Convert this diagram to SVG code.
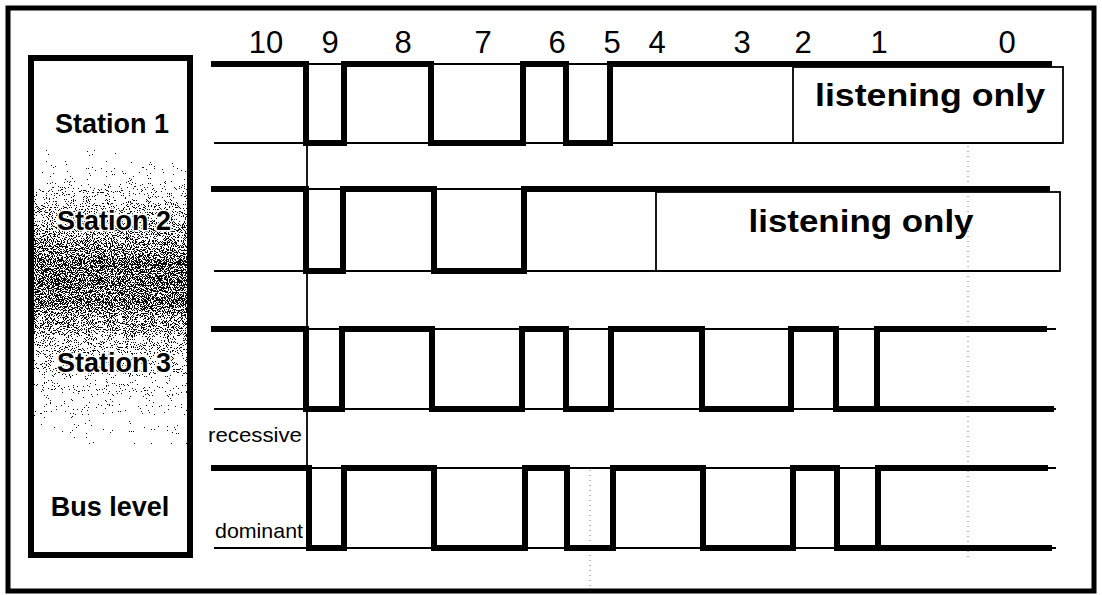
<svg xmlns="http://www.w3.org/2000/svg" width="1102" height="595" viewBox="0 0 1102 595">
<style>
.num{font-family:"Liberation Sans",Arial,sans-serif;font-size:31px;fill:#000;text-anchor:middle}
.lbl{font-family:"Liberation Sans",Arial,sans-serif;font-weight:bold;font-size:27px;fill:#000;text-anchor:middle}
.lst{font-family:"Liberation Sans",Arial,sans-serif;font-weight:bold;font-size:32px;fill:#000;text-anchor:middle}
.lvl{font-family:"Liberation Sans",Arial,sans-serif;font-size:21px;fill:#000}
.sig{fill:none;stroke:#000;stroke-width:6;stroke-linejoin:miter;stroke-linecap:square}
.thin{fill:none;stroke:#000;stroke-width:1.8}
.dot{fill:none;stroke:#777;stroke-width:1;stroke-dasharray:1 4}
</style>
<defs>
<linearGradient id="shade" x1="0" y1="150" x2="0" y2="445" gradientUnits="userSpaceOnUse">
<stop offset="0" stop-color="#fff"/>
<stop offset="0.08" stop-color="#e8e8e8"/>
<stop offset="0.22" stop-color="#ababab"/>
<stop offset="0.39" stop-color="#727272"/>
<stop offset="0.51" stop-color="#787878"/>
<stop offset="0.66" stop-color="#b0b0b0"/>
<stop offset="0.82" stop-color="#dcdcdc"/>
<stop offset="1" stop-color="#fff"/>
</linearGradient>
<filter id="grain" x="0" y="0" width="1" height="1" color-interpolation-filters="sRGB">
<feTurbulence type="fractalNoise" baseFrequency="0.95" numOctaves="2" seed="7" result="n"/>
<feColorMatrix in="n" type="matrix" values="1 0 0 0 0  1 0 0 0 0  1 0 0 0 0  0 0 0 0 1" result="g"/>
<feComposite in="SourceGraphic" in2="g" operator="arithmetic" k1="0" k2="1" k3="1.8" k4="-0.9" result="c"/>
<feComponentTransfer in="c" result="d">
<feFuncR type="discrete" tableValues="0.05 1"/>
<feFuncG type="discrete" tableValues="0.05 1"/>
<feFuncB type="discrete" tableValues="0.05 1"/>
</feComponentTransfer>
<feComposite in="d" in2="SourceAlpha" operator="in"/>
</filter>
</defs>
<rect x="0" y="0" width="1102" height="595" fill="#fff"/>
<g id="frame">
<rect x="8" y="8" width="1086" height="583" fill="none" stroke="#000" stroke-width="5"/>
</g>
<g id="panel">
<rect x="31" y="58" width="159" height="497" fill="#fff"/>
<rect x="31" y="150" width="159" height="295" fill="url(#shade)" filter="url(#grain)"/>
<rect x="31" y="58" width="159" height="497" fill="none" stroke="#000" stroke-width="6"/>
</g>
<g id="label-station1"><text class="lbl" x="112" y="133">Station 1</text></g>
<g id="label-station2"><text class="lbl" x="114" y="230" stroke="#fff" stroke-width="3" paint-order="stroke">Station 2</text></g>
<g id="label-station3"><text class="lbl" x="114" y="372" stroke="#fff" stroke-width="3" paint-order="stroke">Station 3</text></g>
<g id="label-bus"><text class="lbl" x="110" y="516">Bus level</text></g>
<g id="bit-numbers">
<text class="num" x="266" y="53">10</text>
<text class="num" x="330" y="53">9</text>
<text class="num" x="403" y="53">8</text>
<text class="num" x="483" y="53">7</text>
<text class="num" x="557" y="53">6</text>
<text class="num" x="612" y="53">5</text>
<text class="num" x="657" y="53">4</text>
<text class="num" x="742" y="53">3</text>
<text class="num" x="803" y="53">2</text>
<text class="num" x="879" y="53">1</text>
<text class="num" x="1007" y="53">0</text>
</g>
<g id="grid">
<line class="dot" x1="968" y1="146" x2="968" y2="560"/>
<line class="dot" x1="590" y1="470" x2="590" y2="588"/>
<line class="thin" x1="307" y1="146" x2="307" y2="467"/>
</g>
<g id="station1">
<line class="thin" x1="214" y1="64" x2="793" y2="64"/>
<line class="thin" x1="214" y1="143" x2="1063" y2="143"/>
<rect class="thin" x="793" y="67" width="270" height="76"/>
<path class="sig" d="M214,64 H306 V143 H344 V64 H431 V143 H523 V64 H566 V143 H610 V64 H1049"/>
<text class="lst" x="930" y="106" textLength="230" lengthAdjust="spacingAndGlyphs">listening only</text>
</g>
<g id="station2">
<line class="thin" x1="214" y1="189" x2="656" y2="189"/>
<line class="thin" x1="214" y1="271" x2="1060" y2="271"/>
<rect class="thin" x="656" y="192" width="404" height="79"/>
<path class="sig" d="M214,189 H306 V271 H343 V189 H434 V271 H524 V189 H1047"/>
<text class="lst" x="861" y="232" textLength="225" lengthAdjust="spacingAndGlyphs">listening only</text>
</g>
<g id="station3">
<line class="thin" x1="214" y1="329" x2="1056" y2="329"/>
<line class="thin" x1="214" y1="409" x2="1056" y2="409"/>
<path class="sig" d="M214,329 H306 V409 H342 V329 H432 V409 H522 V329 H566 V409 H611 V329 H702 V409 H791 V329 H836 V409 H877 V329 H1044"/>
<path class="sig" d="M877,409 H1051"/>
</g>
<g id="bus">
<line class="thin" x1="214" y1="468" x2="1056" y2="468"/>
<line class="thin" x1="214" y1="548" x2="1056" y2="548"/>
<path class="sig" d="M214,468 H309 V548 H344 V468 H434 V548 H525 V468 H567 V548 H613 V468 H703 V548 H793 V468 H837 V548 H878 V468 H1045"/>
<path class="sig" d="M878,548 H1049"/>
<text class="lvl" x="208" y="442" textLength="94" lengthAdjust="spacingAndGlyphs">recessive</text>
<text class="lvl" x="215" y="538" textLength="88" lengthAdjust="spacingAndGlyphs">dominant</text>
</g>
</svg>
